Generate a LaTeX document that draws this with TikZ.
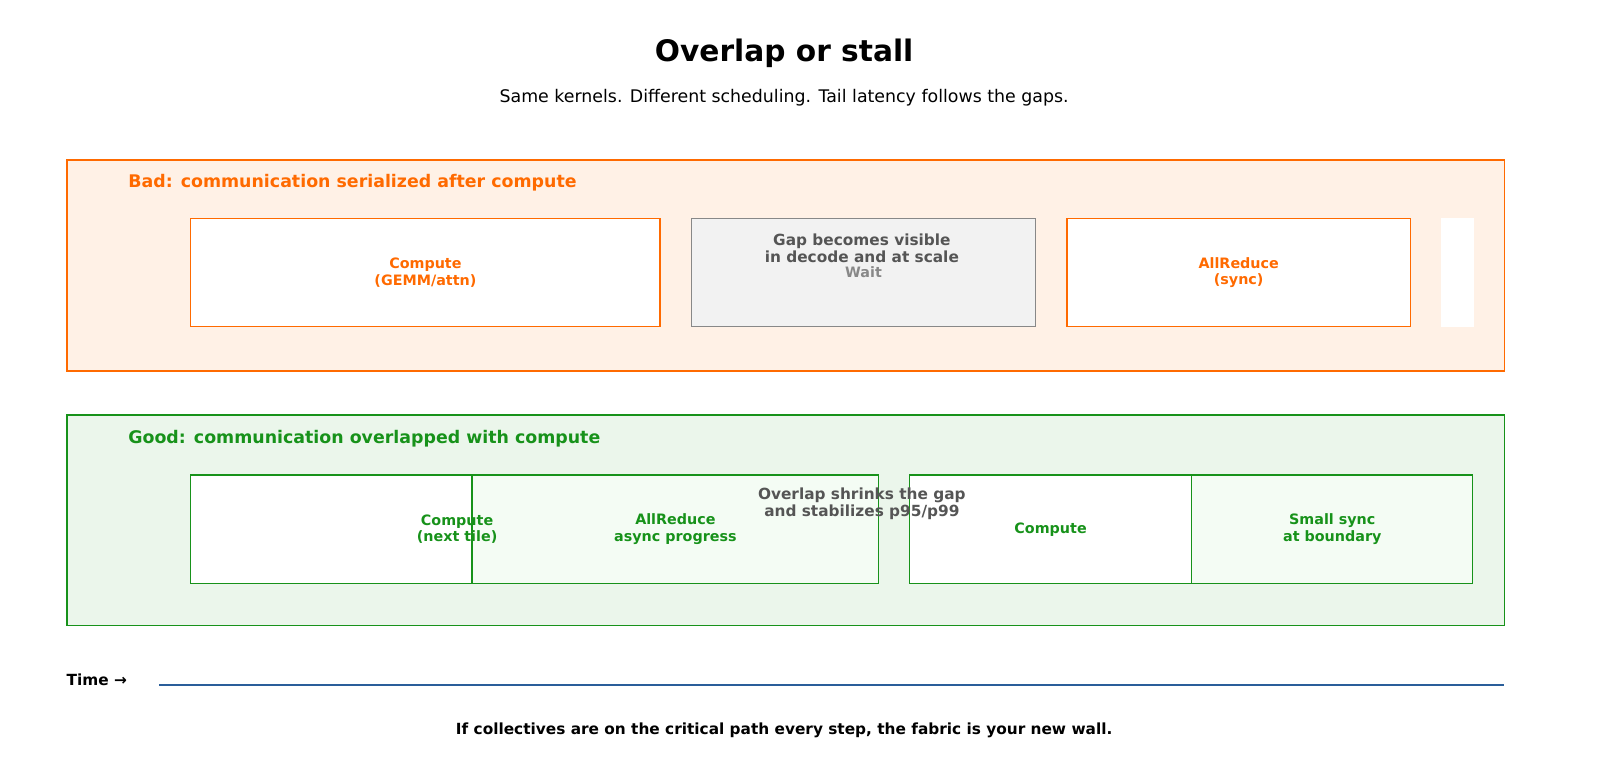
\documentclass[tikz,border=0pt]{standalone}
\usepackage{fontspec}
\setmainfont{DejaVu Sans}
\usetikzlibrary{positioning}
\definecolor{badc}{HTML}{FF6A00}
\definecolor{badbg}{HTML}{FFF1E6}
\definecolor{goodc}{HTML}{17921A}
\definecolor{goodbg}{HTML}{EBF6EB}
\definecolor{goodfill}{HTML}{F4FCF4}
\definecolor{waitbg}{HTML}{F2F2F2}
\definecolor{waitc}{HTML}{888888}
\definecolor{notec}{HTML}{555555}
\definecolor{axisc}{HTML}{2A5E9A}
\tikzstyle{panel} = [rectangle, line width=1.5pt, anchor=north west, inner sep=0pt]
\tikzstyle{slot} = [rectangle, line width=1.2pt, anchor=north west, inner sep=0pt, minimum height=106]
\tikzstyle{lbl} = [font=\fontsize{14}{16}\selectfont\bfseries, align=center]
\tikzstyle{head} = [font=\fontsize{17}{20}\selectfont\bfseries, anchor=west]

\begin{document}
\begin{tikzpicture}[x=1pt, y=-1pt]
        \useasboundingbox (0,0) rectangle (1565,765);

        \node (title) at (767,52) {\fontsize{29}{33}\selectfont\bfseries Overlap or stall};
        \node (sub) at (767,96) {\fontsize{17}{20}\selectfont Same kernels. Different scheduling. Tail latency follows the gaps.};

        % bad schedule
        \node (bad) [panel, draw=badc, fill=badbg, minimum width=1406, minimum height=206] at (65,156) {};
        \node (badhead) [head, text=badc] at (122,179) {Bad: communication serialized after compute};
        \node (bcomp) [slot, draw=badc, fill=white, minimum width=459] at (186,213) {};
        \node (bwait) [slot, draw=waitc, fill=waitbg, minimum width=336] at (676,213) {};
        \node (bsync) [slot, draw=badc, fill=white, minimum width=336] at (1043,213) {};
        \node (bend) [slot, fill=white, minimum width=32] at (1409,213) {};
        \node [lbl, text=badc] at (bcomp.center) {Compute\\(GEMM/attn)};
        \node [lbl, text=waitc] at (bwait.center) {Wait};
        \node (gapnote) [lbl, text=notec, font=\fontsize{15}{17}\selectfont\bfseries] at (843,243) {Gap becomes visible\\in decode and at scale};
        \node [lbl, text=badc] at (bsync.center) {AllReduce\\(sync)};

        % good schedule
        \node (good) [panel, draw=goodc, fill=goodbg, minimum width=1406, minimum height=206] at (65,405) {};
        \node (goodhead) [head, text=goodc] at (122,429) {Good: communication overlapped with compute};
        \node (gcomp) [slot, draw=goodc, fill=white, minimum width=521] at (186,464) {};
        \node (gred) [slot, draw=goodc, fill=goodfill, minimum width=398] at (461,464) {};
        \node (gcomp2) [slot, draw=goodc, fill=white, minimum width=276] at (889,464) {};
        \node (gsync) [slot, draw=goodc, fill=goodfill, minimum width=275] at (1165,464) {};
        \node [lbl, text=goodc] at (gcomp.center) {Compute\\(next tile)};
        \node [lbl, text=goodc] at (gred.center) {AllReduce\\async progress};
        \node [lbl, text=goodc] at (gcomp2.center) {Compute};
        \node [lbl, text=goodc] at (gsync.center) {Small sync\\at boundary};
        \node (overnote) [lbl, text=notec, font=\fontsize{15}{17}\selectfont\bfseries] at (843,493) {Overlap shrinks the gap\\and stabilizes p95/p99};

        % time axis
        \node (time) [anchor=west, inner sep=0pt, font=\fontsize{15}{18}\selectfont\bfseries] at (65,665) {Time →};
        \coordinate (t0) at (156,670);
        \coordinate (t1) at (1471,670);
        \draw [axisc, line width=1.3pt] (t0) -- (t1);

        \node (foot) at (767,714) {\fontsize{15}{18}\selectfont\bfseries If collectives are on the critical path every step, the fabric is your new wall.};
    \end{tikzpicture}
\end{document}
